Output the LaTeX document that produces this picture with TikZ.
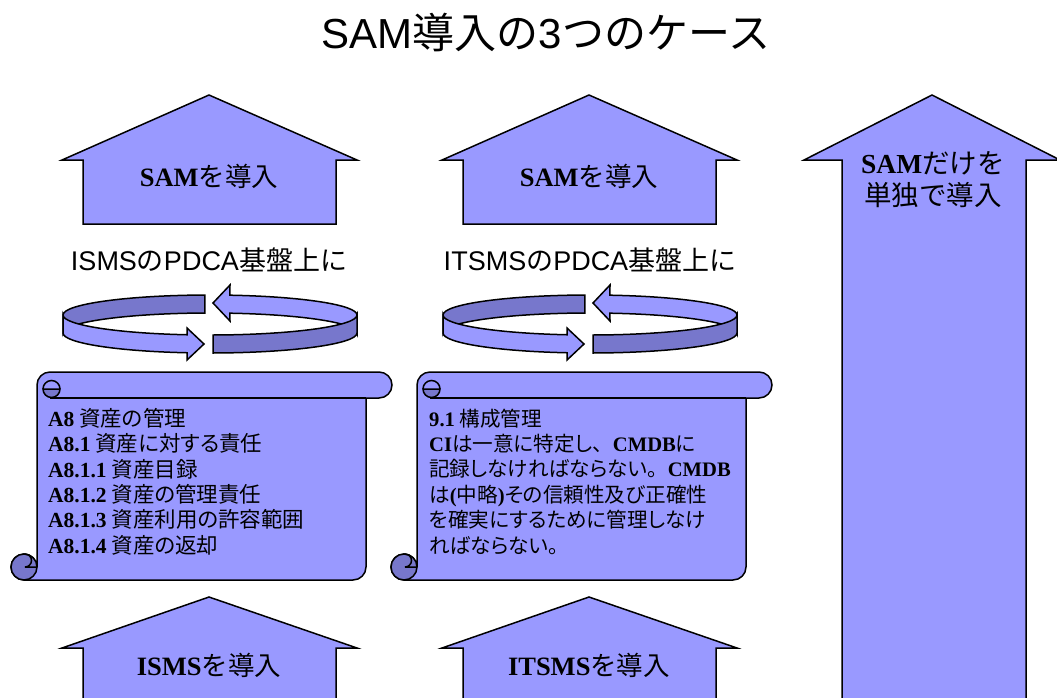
\documentclass[tikz,border=0pt]{standalone}
\usepackage{fontspec}
\setmainfont{Liberation Sans}
\newfontfamily\jp{Noto Sans CJK JP}
\newfontfamily\jpp{Noto Sans CJK JP}[RawFeature=+palt]
\newfontfamily\tnr{Liberation Serif}
\newcommand\BB[1]{{\tnr\bfseries #1}}
\newcommand\JJ[1]{{\jp #1}}
\definecolor{lite}{HTML}{9999FF}
\definecolor{drk}{HTML}{7777CC}
\tikzset{
  litepart/.style={fill=lite, draw=black, line width=1.5pt},
  darkpart/.style={fill=drk, draw=black, line width=1.5pt},
  strk/.style={draw=black, line width=1.5pt},
  scrolltext/.style={anchor=west, align=left, inner sep=0pt, font=\jpp\fontsize{21.5}{25.4}\selectfont},
  scrolltextb/.style={anchor=west, align=left, inner sep=0pt, font=\jpp\fontsize{20.6}{25.4}\selectfont},
  arrowlabel/.style={font=\fontsize{26.5}{30}\selectfont},
  caselabel/.style={font=\fontsize{27}{30}\selectfont},
}
\newcommand\myring{%
  \draw[darkpart] (63,315) arc[start angle=180,end angle=268,x radius=147,y radius=20]
    -- ({210+147*cos(268)},{333+20*sin(268)}) arc[start angle=268,end angle=180,x radius=147,y radius=20] -- cycle;
  \draw[litepart] (357,315) arc[start angle=360,end angle=277.8,x radius=147,y radius=20]
    -- (230,285) -- (213,303) -- (230,321)
    -- ({210+147*cos(277.8)},{333+20*sin(277.8)}) arc[start angle=277.8,end angle=360,x radius=147,y radius=20] -- cycle;
  \draw[litepart] (63,315) arc[start angle=180,end angle=99,x radius=147,y radius=20]
    -- (187,328) -- (204,344) -- (187,360)
    -- ({210+147*cos(99)},{333+20*sin(99)}) arc[start angle=99,end angle=180,x radius=147,y radius=20] -- cycle;
  \draw[darkpart] ({210+147*cos(88.8)},{315+20*sin(88.8)}) arc[start angle=88.8,end angle=0,x radius=147,y radius=20]
    -- (357,333) arc[start angle=0,end angle=88.8,x radius=147,y radius=20] -- cycle;
}
\newcommand\myscroll{%
  \draw[litepart] (37,385) arc[start angle=180,end angle=270,radius=13] -- (379,372)
    arc[start angle=270,end angle=450,radius=13] -- (366,398) -- (366,567)
    arc[start angle=0,end angle=90,radius=13] -- (24,580)
    arc[start angle=90,end angle=360,radius=13] -- cycle;
  \draw[strk] (50,398) -- (366,398);
  \draw[darkpart] (43,389) arc[start angle=180,end angle=0,radius=8.5] -- cycle;
  \draw[strk] (60,389) arc[start angle=0,end angle=-180,radius=8.5];
  \draw[darkpart] (24,567) circle[radius=13];
  \draw[strk] (25,554) arc[start angle=270,end angle=450,radius=6.5] -- (37,567);
}
\begin{document}
\begin{tikzpicture}[x=1pt,y=-1pt]
\useasboundingbox (0,0) rectangle (1057,697);

% title
\node[font=\fontsize{42}{50}\selectfont] (title) at (546,32) {SAM\JJ{導入の}3\JJ{つのケース}};

% top arrows
\draw[litepart] (209,95) -- (357,160) -- (336,160) -- (336,224) -- (83,224) -- (83,160) -- (62,160) -- cycle;
\draw[litepart] (589,95) -- (737,160) -- (716,160) -- (716,224) -- (463,224) -- (463,160) -- (442,160) -- cycle;
\node[arrowlabel] (sam1) at (209,176) {\BB{SAM}\JJ{を導入}};
\node[arrowlabel] (sam2) at (589,176) {\BB{SAM}\JJ{を導入}};

% right tall arrow
\draw[litepart] (932,95) -- (1060,160) -- (1026,160) -- (1026,702) -- (842,702) -- (842,160) -- (804,160) -- cycle;
\node[align=center, font=\fontsize{27.5}{32}\selectfont] (sam3) at (933,180) {\BB{SAM}\JJ{だけを}\\\JJ{単独で導入}};

% labels
\node[caselabel] (lab1) at (209,260) {ISMS\JJ{の}PDCA\JJ{基盤上に}};
\node[caselabel] (lab2) at (590,260) {ITSMS\JJ{の}PDCA\JJ{基盤上に}};

% rings
\myring
\begin{scope}[shift={(380,0)}]
\myring
\end{scope}

% scrolls
\myscroll
\begin{scope}[shift={(380,0)}]
\myscroll
\end{scope}

\node[scrolltext] (txt1) at (48,481.5) {\BB{A8} 資産の管理\\
\BB{A8.1} 資産に対する責任\\
\BB{A8.1.1} 資産目録\\
\BB{A8.1.2} 資産の管理責任\\
\BB{A8.1.3} 資産利用の許容範囲\\
\BB{A8.1.4} 資産の返却};

\node[scrolltextb] (txt2) at (429,481.5) {\BB{9.1} 構成管理\\
\BB{CI}は一意に特定し\JJ{、}\BB{CMDB}に\\
記録しなければならない\JJ{。}\BB{CMDB}\\
は\BB{(}中略\BB{)}その信頼性及び正確性\\
を確実にするために管理しなけ\\
ればならない\JJ{。}};

% bottom arrows
\draw[litepart] (209,597) -- (357,648) -- (336,648) -- (336,702) -- (83,702) -- (83,648) -- (62,648) -- cycle;
\draw[litepart] (589,597) -- (737,648) -- (716,648) -- (716,702) -- (463,702) -- (463,648) -- (442,648) -- cycle;
\node[arrowlabel] (isms) at (209,665) {\BB{ISMS}\JJ{を導入}};
\node[arrowlabel] (itsms) at (589,665) {\BB{ITSMS}\JJ{を導入}};
\end{tikzpicture}
\end{document}
